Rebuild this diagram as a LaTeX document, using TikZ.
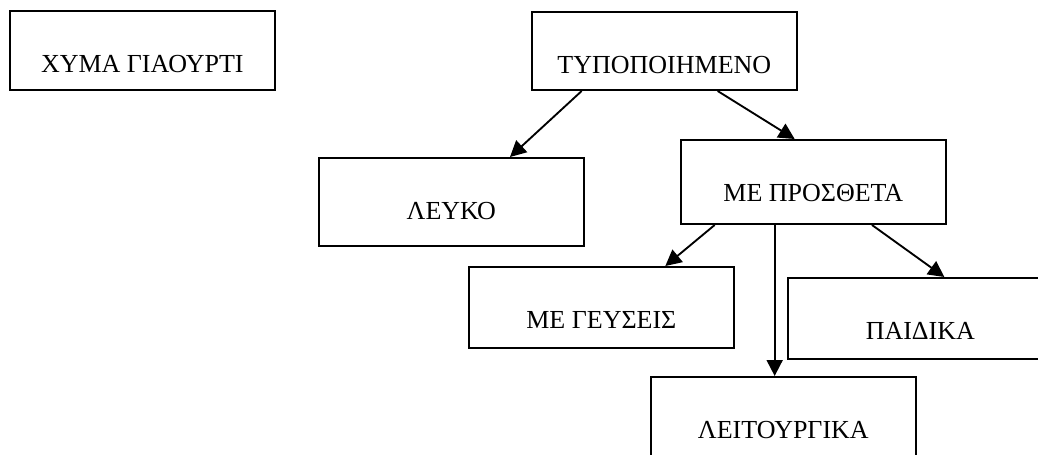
\documentclass[tikz,border=0pt]{standalone}
\usepackage{fontspec}
\setmainfont{Liberation Serif}
\usetikzlibrary{arrows.meta, calc}
\tikzset{
  gbox/.style={
    rectangle, draw=black, line width=1.5pt,
    minimum width=198.5pt, inner sep=0pt,
    text height=45.75pt, anchor=north west,
    font=\fontsize{19.5}{23}\selectfont
  },
  arr/.style={-{Triangle[length=12pt, width=12pt]}, line width=1.4pt},
}

\begin{document}
\begin{tikzpicture}[x=0.75pt, y=-0.75pt]
  \useasboundingbox (0,0) rectangle (1038,454);
  \clip (0,0) rectangle (1038,454);
  \node[gbox, text depth=13.5pt]  (chyma) at (9,10)    {ΧΥΜΑ ΓΙΑΟΥΡΤΙ};
  \node[gbox, text depth=12.75pt] (typ)   at (531,11)  {ΤΥΠΟΠΟΙΗΜΕΝΟ};
  \node[gbox, text depth=20.25pt] (leuko) at (318,157) {ΛΕΥΚΟ};
  \node[gbox, text depth=17.25pt] (pros)  at (680,139) {ΜΕ ΠΡΟΣΘΕΤΑ};
  \node[gbox, text depth=15pt]    (geus)  at (468,266) {ΜΕ ΓΕΥΣΕΙΣ};
  \node[gbox, text depth=15pt]    (paid)  at (787,277) {ΠΑΙΔΙΚΑ};
  \node[gbox, text depth=16.5pt]  (leit)  at (650,376) {ΛΕΙΤΟΥΡΓΙΚΑ};
  \coordinate (pdown) at ($(pros.south west)!0.355!(pros.south east)$);
  \draw[arr] ($(typ.south west)!0.19!(typ.south east)$) -- ($(leuko.north west)!0.72!(leuko.north east)$);
  \draw[arr] ($(typ.south west)!0.70!(typ.south east)$) -- ($(pros.north west)!0.43!(pros.north east)$);
  \draw[arr] ($(pros.south west)!0.13!(pros.south east)$) -- ($(geus.north west)!0.74!(geus.north east)$);
  \draw[arr] (pdown) -- (pdown |- leit.north);
  \draw[arr] ($(pros.south west)!0.72!(pros.south east)$) -- ($(paid.north west)!0.59!(paid.north east)$);
\end{tikzpicture}
\end{document}
